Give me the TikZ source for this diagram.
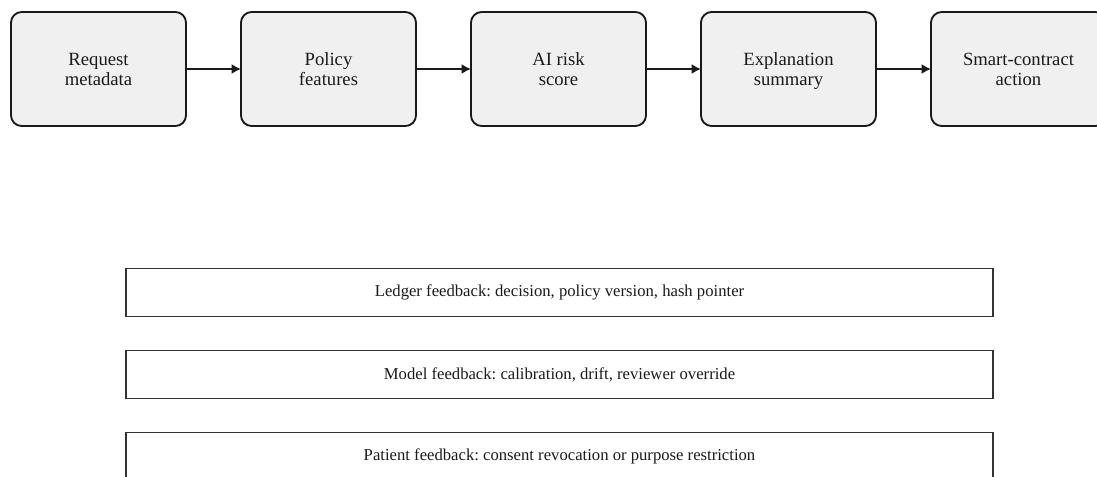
\documentclass[tikz,border=0pt]{standalone}
\usepackage{fontspec}
\setmainfont{Liberation Serif}[Ligatures=TeX]
\frenchspacing
\usetikzlibrary{arrows.meta,positioning}
\definecolor{boxfill}{HTML}{F0F0F0}
\definecolor{ink}{HTML}{1A1A1A}
\definecolor{rim}{HTML}{333333}
\tikzset{
  stagebox/.style={
    rectangle, rounded corners=8pt, draw=ink, fill=boxfill, line width=1.4pt,
    minimum width=131.25pt, minimum height=85.5pt, outer sep=0pt,
    text height=25pt, text depth=0pt,
    align=center, text=ink, font=\fontsize{14pt}{15.5pt}\selectfont
  },
  loopbox/.style={
    rectangle, draw=rim, line width=1pt,
    minimum width=650.25pt, minimum height=36pt, outer sep=0pt,
    text=ink, font=\fontsize{12.5pt}{14pt}\selectfont
  },
  flowarrow/.style={
    -{Latex[length=7pt,width=7.5pt]}, line width=1.5pt, color=ink
  },
}

\begin{document}
\begin{tikzpicture}[x=0.75pt,y=-0.75pt,node distance=25.5pt and 41.25pt]
\useasboundingbox (0,0) rectangle (1097,476);
\node[stagebox] (request) at (98.5,69) {Request\\metadata};
\node[stagebox, right=of request] (policy) {Policy\\features};
\node[stagebox, right=of policy] (risk) {AI risk\\score};
\node[stagebox, right=of risk] (explain) {Explanation\\summary};
\node[stagebox, right=of explain] (action) {Smart-contract\\action};
\node[loopbox] (ledger) at (559.5,292.5) {Ledger feedback: decision, policy version, hash pointer};
\node[loopbox, below=of ledger] (model) {Model feedback: calibration, drift, reviewer override};
\node[loopbox, below=of model] (patient) {Patient feedback: consent revocation or purpose restriction};
\draw[flowarrow] (request) -- (policy);
\draw[flowarrow] (policy) -- (risk);
\draw[flowarrow] (risk) -- (explain);
\draw[flowarrow] (explain) -- (action);
\end{tikzpicture}
\end{document}
